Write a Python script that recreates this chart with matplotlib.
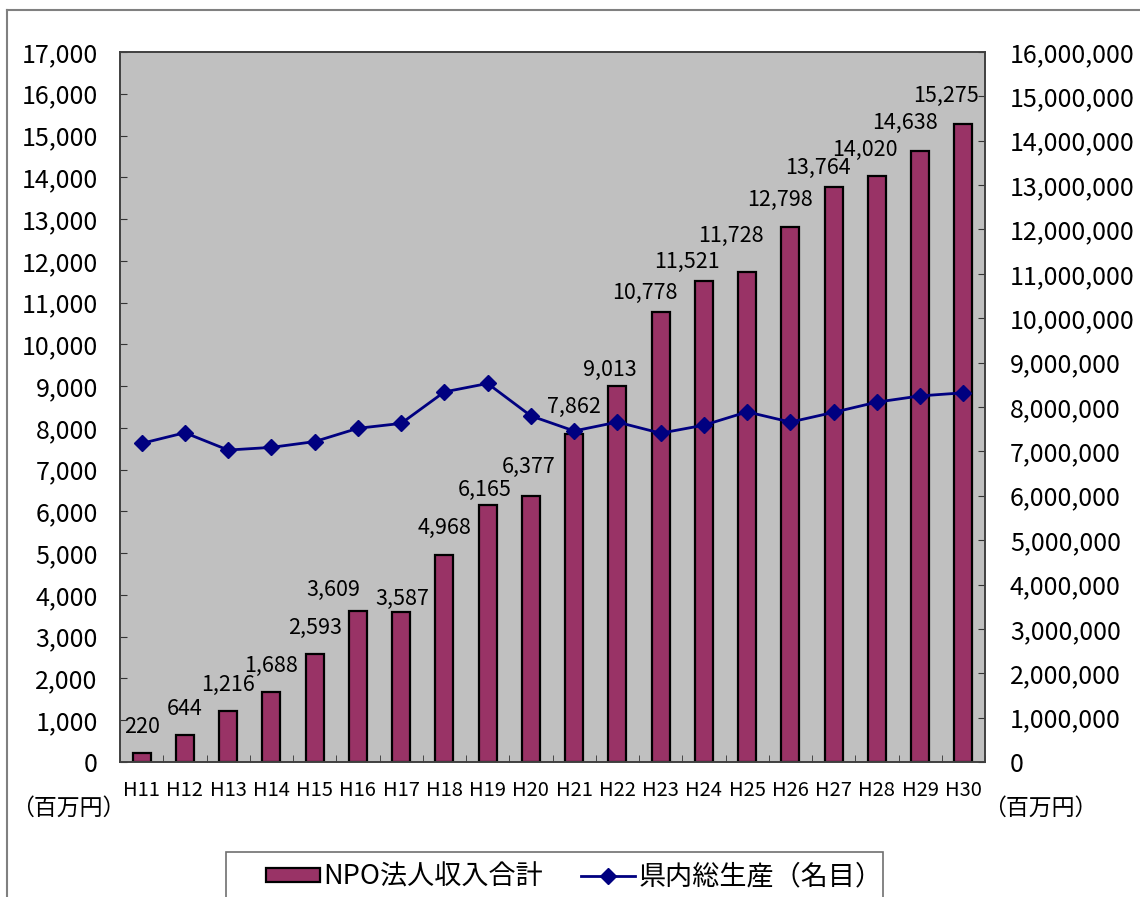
import matplotlib
matplotlib.use("Agg")
import matplotlib.pyplot as plt
from matplotlib.lines import Line2D
from matplotlib.patches import Rectangle
from matplotlib.ticker import FuncFormatter, MultipleLocator
import numpy as np

plt.rcParams['font.family'] = ['Noto Sans CJK JP', 'DejaVu Sans']

# データ
nendo = ['H11', 'H12', 'H13', 'H14', 'H15', 'H16', 'H17', 'H18', 'H19', 'H20',
         'H21', 'H22', 'H23', 'H24', 'H25', 'H26', 'H27', 'H28', 'H29', 'H30']
npo_shunyu = [220, 644, 1216, 1688, 2593, 3609, 3587, 4968, 6165, 6377,
              7862, 9013, 10778, 11521, 11728, 12798, 13764, 14020, 14638, 15275]
# 県内総生産（名目）, 百万円
kennai_sou = [7180000, 7420000, 7030000, 7090000, 7220000, 7520000, 7630000, 8340000, 8530000, 7800000,
              7460000, 7660000, 7410000, 7590000, 7890000, 7660000, 7880000, 8110000, 8250000, 8320000]

# ラベルのずれ（ピクセル）: 元のグラフで手で動かしてある
label_dx = [0, 0, 0, 0, 0, -25, 1, 0, -3, -2,
            0, -8, -16, -17, -16, -10, -16, -12, -15, -17]
label_dy = [26, 26, 26, 26, 26, 21, 13, 27, 15, 29,
            27, 16, 19, 19, 36, 28, 19, 27, 28, 28]

fig = plt.figure(figsize=(11.4, 8.97), dpi=100)
ax = fig.add_axes([120 / 1140, 1 - 762 / 897, 865 / 1140, 710 / 897])
ax.set_facecolor('#C0C0C0')

x = np.arange(len(nendo))
ax.bar(x, npo_shunyu, width=0.42, color='#993366', edgecolor='black', linewidth=1.6, zorder=2)
ax.set_xlim(-0.5, len(nendo) - 0.5)
ax.set_ylim(0, 17000)
ax.yaxis.set_major_locator(MultipleLocator(1000))
ax.yaxis.set_major_formatter(FuncFormatter(lambda v, p: f'{int(v):,}'))
ax.set_xticks(x)
ax.set_xticklabels(nendo, fontsize=14.5)
ax.set_xticks(np.arange(-0.5, len(nendo), 1), minor=True)
ax.tick_params(axis='x', which='major', length=0, pad=13)
ax.tick_params(axis='x', which='minor', direction='in', length=5, color='#333333')
ax.tick_params(axis='y', direction='in', length=5, pad=16, labelsize=18, color='#333333')
for s in ax.spines.values():
    s.set_color('#404040')
    s.set_linewidth(1.2)

ax2 = ax.twinx()
ax2.plot(x, kennai_sou, color='#000080', lw=2, marker='D', ms=8, zorder=3)
ax2.set_ylim(0, 16000000)
ax2.yaxis.set_major_locator(MultipleLocator(1000000))
ax2.yaxis.set_major_formatter(FuncFormatter(lambda v, p: f'{int(v):,}'))
ax2.tick_params(axis='y', direction='in', length=5, pad=18, labelsize=18, color='#333333')
for s in ax2.spines.values():
    s.set_color('#404040')
    s.set_linewidth(1.2)

for i, v in enumerate(npo_shunyu):
    ax2.annotate(f'{v:,}', xy=(x[i], v), xycoords=ax.transData,
                 xytext=(label_dx[i], label_dy[i]), textcoords='offset pixels',
                 ha='center', va='center', fontsize=15.5, zorder=5)

fig.text(68 / 1140, 1 - 808 / 897, '（百万円）', ha='center', va='center', fontsize=16.5)
fig.text(1040 / 1140, 1 - 808 / 897, '（百万円）', ha='center', va='center', fontsize=16.5)

# 外枠
fig.add_artist(Line2D([7 / 1140, 1], [1 - 10 / 897, 1 - 10 / 897], color='#808080', lw=1.5))
fig.add_artist(Line2D([7 / 1140, 7 / 1140], [0, 1 - 10 / 897], color='#808080', lw=1.5))

# 凡例の枠
fig.add_artist(Rectangle((226 / 1140, -0.02), 657 / 1140, 0.02 + 1 - 852 / 897,
                         transform=fig.transFigure, facecolor='white',
                         edgecolor='#707070', lw=1.2))

handles = [Rectangle((0, 0), 1, 1, facecolor='#993366', edgecolor='black', lw=1.6),
           Line2D([], [], color='#000080', lw=2, marker='D', ms=8)]
leg = fig.legend(handles, ['NPO法人収入合計', '県内総生産（名目）'], ncol=2,
                 loc='center left', bbox_to_anchor=(266 / 1140, 1 - 877 / 897),
                 fontsize=19.5, frameon=False,
                 handlelength=2.0, handleheight=0.45, columnspacing=1.4,
                 borderpad=0, handletextpad=0.12, borderaxespad=0)

fig.savefig('out.png', dpi=100)
